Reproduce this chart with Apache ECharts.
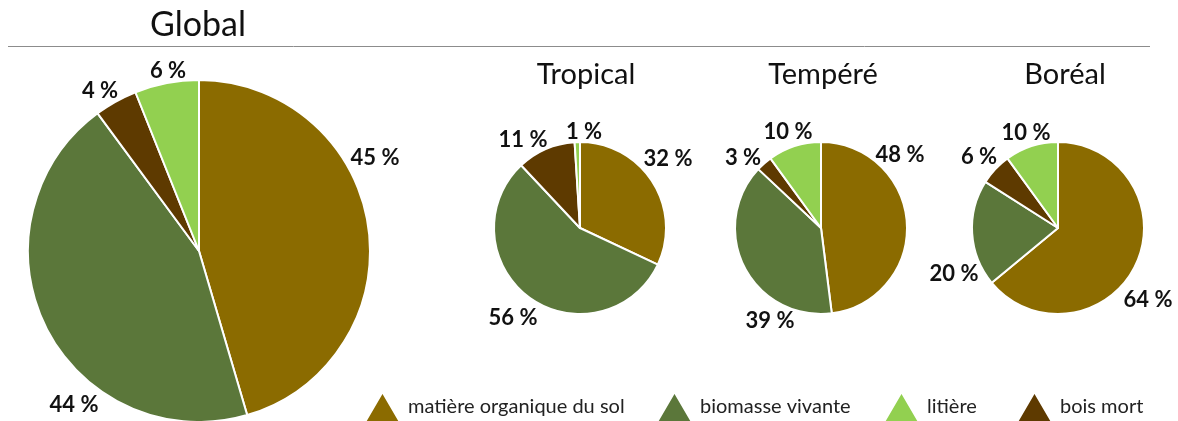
<!DOCTYPE html>
<html>
<head>
<meta charset="utf-8">
<script src="https://cdn.jsdelivr.net/npm/echarts@6/dist/echarts.min.js"></script>
<style>
html,body{margin:0;padding:0;background:#fff;}
#c{width:1178px;height:421px;}
</style>
</head>
<body>
<div id="c"></div>
<script>
// ---- data ----
const categories = ['matière organique du sol', 'biomasse vivante', 'bois mort', 'litière'];
const panels = ['Global', 'Tropical', 'Tempéré', 'Boréal'];
const globalValues   = [45, 44, 4, 6];
const tropicalValues = [32, 56, 11, 1];
const tempereValues  = [48, 39, 3, 10];
const borealValues   = [64, 20, 6, 10];
const legendOrder = ['matière organique du sol', 'biomasse vivante', 'litière', 'bois mort'];

// ---- styles / layout ----
const colors = {
  'matière organique du sol': '#8B6B00',
  'biomasse vivante': '#5B773A',
  'bois mort': '#5E3A00',
  'litière': '#92D050'
};
const FONT = 'Lato, "Noto Sans", sans-serif';
const pieLayout = [
  {center: [199, 251], radius: 171, title: [198, 25, 34]},
  {center: [580, 228], radius: 86, title: [586, 75, 29]},
  {center: [821, 228], radius: 86, title: [823, 75, 29]},
  {center: [1058, 228], radius: 86, title: [1065, 75, 29]}
];
// label offsets from pie centre, in category order
const labelOffsets = [
  [[176, -93], [-125, 154], [-99, -160], [-31, -180]],
  [[88, -69], [-67, 90], [-57, -88], [4, -96]],
  [[79, -73], [-51, 93], [-78, -70], [-33, -96]],
  [[90, 72], [-104, 46], [-79, -71], [-32, -95]]
];
const legendLeft = [364, 656, 883, 1016];

const allValues = [globalValues, tropicalValues, tempereValues, borealValues];

const series = allValues.map((vals, si) => {
  const lay = pieLayout[si];
  return {
    type: 'pie',
    name: panels[si],
    center: lay.center,
    radius: lay.radius,
    startAngle: 90,
    clockwise: true,
    avoidLabelOverlap: false,
    animation: false,
    silent: true,
    itemStyle: {borderColor: '#fff', borderWidth: 2},
    label: {
      show: true,
      position: 'outside',
      formatter: p => p.value + ' %',
      fontFamily: FONT,
      fontWeight: 'bold',
      fontSize: 22,
      color: '#111'
    },
    labelLine: {show: false},
    labelLayout: function (params) {
      const off = labelOffsets[si][params.dataIndex];
      return {
        x: lay.center[0] + off[0],
        y: lay.center[1] + off[1],
        align: 'center',
        verticalAlign: 'middle'
      };
    },
    emphasis: {disabled: true},
    data: categories.map((c, i) => ({name: c, value: vals[i], itemStyle: {color: colors[c]}}))
  };
});

const legends = legendOrder.map((name, i) => ({
  data: [name],
  left: legendLeft[i],
  top: 391,
  padding: 0,
  icon: 'triangle',
  itemWidth: 35,
  itemHeight: 30,
  selectedMode: false,
  textStyle: {fontFamily: FONT, fontSize: 20, color: '#222', padding: [0, 0, 0, 3]}
}));

const graphics = [
  {type: 'line', shape: {x1: 8, y1: 46.5, x2: 1150, y2: 46.5}, style: {stroke: '#8c8c8c', lineWidth: 1}, silent: true}
].concat(panels.map((t, i) => ({
  type: 'text',
  x: pieLayout[i].title[0],
  y: pieLayout[i].title[1],
  silent: true,
  style: {
    text: t,
    fontFamily: FONT,
    fontSize: pieLayout[i].title[2],
    fill: '#111',
    align: 'center',
    verticalAlign: 'middle',
    textAlign: 'center',
    textVerticalAlign: 'middle'
  }
})));

const chart = echarts.init(document.getElementById('c'), null, {renderer: 'canvas'});
chart.setOption({
  backgroundColor: '#fff',
  animation: false,
  legend: legends,
  graphic: graphics,
  series: series
});
</script>
</body>
</html>
